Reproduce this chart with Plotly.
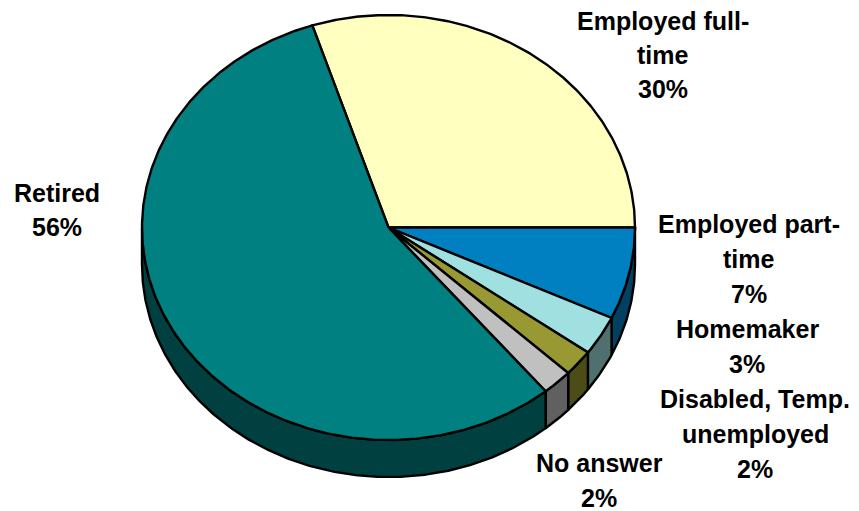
import numpy as np
import plotly.graph_objects as go

# Employment status breakdown (percent of respondents)
categories = ["Employed full-time", "Employed part-time", "Homemaker",
              "Disabled, Temp. unemployed", "No answer", "Retired"]
label_names = ["Employed full-\ntime", "Employed part-\ntime", "Homemaker",
               "Disabled, Temp.\nunemployed", "No answer", "Retired"]
values = [30, 7, 3, 2, 2, 56]

# Slice colours: top face and shaded side face
top_colors = ["#FFFFC0", "#0080C0", "#A0E0E0", "#999933", "#C0C0C0", "#008080"]
side_colors = ["#80805F", "#004060", "#507070", "#4C4C19", "#606060", "#004040"]

# Pie geometry (pixel space of the 859x511 canvas)
W, H = 859, 511
cx, cy = 388.5, 227.5
rx, ry = 246.5, 212.5
depth = 37
start_deg = 108.0          # first slice begins here, slices run clockwise

# Label placement: centre x, baseline of first line, line pitch
label_pos = [(663, 30, 34), (749, 233, 35), (747, 338, 35),
             (755, 408, 35), (599, 472, 35), (57, 202, 34)]
FONT = dict(family="Liberation Sans, Arial, sans-serif", size=25,
            color="black", weight=700)
EDGE = dict(color="black", width=2.4)


def arc(t0, t1, n):
    t = np.radians(np.linspace(t0, t1, n))
    return cx + rx * np.cos(t), cy - ry * np.sin(t)


total = float(sum(values))
bounds = []
a = start_deg
for v in values:
    b = a - 360.0 * v / total
    bounds.append((a, b))
    a = b

fig = go.Figure()

# Side walls: only the front half of the rim (below the centre line)
for (a0, a1), col in zip(bounds, side_colors):
    segs = []
    for lo, hi in [(-180.0, 0.0), (-540.0, -360.0), (180.0, 360.0)]:
        s_hi = min(a0, hi)
        s_lo = max(a1, lo)
        if s_hi > s_lo:
            segs.append((s_hi, s_lo))
    for s_hi, s_lo in segs:
        n = max(int(abs(s_hi - s_lo) * 2), 4)
        xs, ys = arc(s_hi, s_lo, n)
        px = np.concatenate([xs, xs[::-1], xs[:1]])
        py = np.concatenate([ys, ys[::-1] + depth, ys[:1]])
        fig.add_trace(go.Scatter(x=px, y=py, mode="lines", fill="toself",
                                 fillcolor=col, line=EDGE,
                                 hoverinfo="skip", showlegend=False))

# Top faces
for (a0, a1), col, name in zip(bounds, top_colors, categories):
    n = max(int(abs(a0 - a1) * 2), 4)
    xs, ys = arc(a0, a1, n)
    px = np.concatenate([[cx], xs, [cx]])
    py = np.concatenate([[cy], ys, [cy]])
    fig.add_trace(go.Scatter(x=px, y=py, mode="lines", fill="toself",
                             fillcolor=col, name=name, line=EDGE,
                             hoverinfo="skip", showlegend=False))

# Data labels: category name lines followed by the percentage
for name, v, (lx, ly, pitch) in zip(label_names, values, label_pos):
    lines = name.split("\n") + [f"{v}%"]
    for k, txt in enumerate(lines):
        base = ly + k * pitch
        fig.add_annotation(x=lx, y=base - 0.35 * FONT["size"], text=txt,
                           xref="x", yref="y", showarrow=False,
                           xanchor="center", yanchor="middle", font=FONT)

fig.update_layout(
    width=W, height=H,
    margin=dict(l=0, r=0, t=0, b=0),
    paper_bgcolor="white", plot_bgcolor="white",
    xaxis=dict(range=[0, W], visible=False, fixedrange=True),
    yaxis=dict(range=[H, 0], visible=False, fixedrange=True),
    showlegend=False,
)

fig.write_html("out.html")
